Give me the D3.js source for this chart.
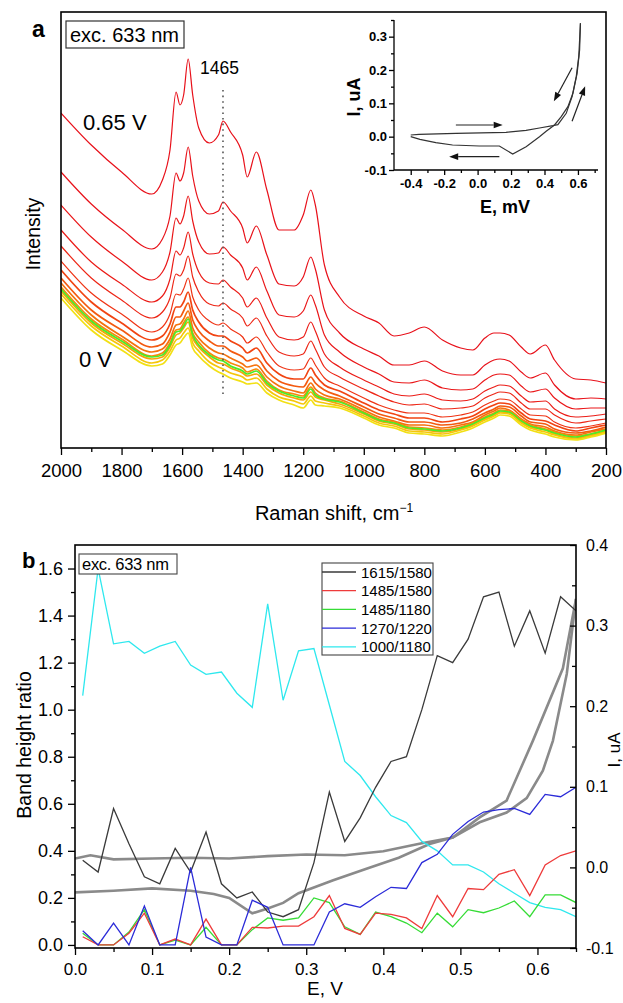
<!DOCTYPE html>
<html>
<head>
<meta charset="utf-8">
<script src="https://cdn.jsdelivr.net/npm/d3@7"></script>
<style>
  body { margin: 0; background: #fff; }
  svg { display: block; }
</style>
</head>
<body>
<svg id="fig" width="623" height="1003"></svg>
<script>
// ---- panel a: Raman spectra, intensity in arbitrary units ----
const shifts = [2000,1900,1800,1700,1665,1640,1620,1607,1595,1580,1565,1545,1510,1480,1465,1440,1400,1385,1355,1320,1280,1230,1200,1175,1160,1130,1080,1000,950,900,850,800,740,680,640,600,570,550,520,480,450,400,370,300,250,200];

const spec00 = [335,303,276,254,268,298,356,343,353,389,353,320,305,313,327,316,293,271,296,258,218,218,233,258,243,183,151,132,125,112,115,121,108,100,98,110,115,115,113,101,94,103,88,69,68,65]; // 0.65 V
const spec01 = [276,244,219,199,209,232,275,267,275,301,272,247,234,237,246,237,220,205,222,193,164,162,171,191,179,138,115,99,92,83,83,87,77,73,73,83,88,89,87,76,70,75,63,49,50,49];
const spec02 = [243,211,187,168,176,196,230,224,232,252,227,206,194,195,201,193,180,168,181,157,133,131,137,153,143,113,96,81,74,66,65,68,60,58,59,68,73,74,73,62,56,59,50,39,40,40];
const spec03 = [218,186,164,146,152,169,197,193,200,216,194,176,165,164,168,161,150,141,150,130,111,108,111,126,117,94,81,68,61,54,52,54,48,47,49,57,61,63,62,52,46,47,39,31,32,34];
const spec04 = [202,170,148,130,136,150,174,172,178,192,171,156,144,142,145,139,130,122,130,112,96,92,94,107,99,81,71,59,52,46,43,44,39,40,42,50,54,56,55,45,39,39,33,25,27,29];
const spec05 = [187,155,134,116,121,134,154,153,159,170,151,138,127,123,125,119,111,105,111,96,82,78,79,90,83,70,62,50,43,38,35,35,31,33,36,43,47,49,48,39,33,32,26,20,22,25];
const spec06 = [178,146,125,108,112,124,141,141,146,156,138,126,115,112,112,107,100,95,100,85,74,69,69,80,73,63,57,45,38,34,30,30,26,29,32,39,43,45,44,35,29,27,23,17,20,23];
const spec07 = [170,138,118,101,104,116,131,131,137,145,128,117,107,102,102,97,91,87,90,77,67,62,61,71,65,58,52,41,34,30,26,26,23,25,29,35,39,42,41,32,26,24,19,15,17,21];
const spec08 = [165,133,112,96,99,109,123,124,129,137,120,110,100,95,94,90,84,81,83,71,62,57,55,65,59,53,49,38,31,27,23,23,20,23,26,33,37,40,38,29,24,21,17,13,16,19];
const spec09 = [161,129,109,92,95,105,118,119,125,131,115,106,95,90,89,85,80,76,79,67,58,54,52,61,55,50,47,36,29,26,21,20,18,21,25,31,35,38,37,28,23,19,16,12,14,18];
const spec10 = [157,125,105,89,91,101,113,115,120,126,110,101,91,85,84,80,75,72,74,63,55,50,48,56,51,48,44,34,27,24,19,18,16,19,23,29,33,36,35,26,21,18,14,10,13,17];
const spec11 = [154,122,102,85,88,97,108,110,115,120,105,97,86,81,79,75,71,68,70,59,51,47,44,52,47,45,42,32,25,22,17,16,14,18,22,28,32,35,34,25,20,16,13,9,12,16];
const spec12 = [150,118,98,82,84,93,103,105,110,115,100,92,82,76,74,70,66,64,65,55,48,43,40,48,43,42,40,30,23,20,15,14,12,16,20,26,30,33,32,23,18,14,11,8,11,15]; // 0 V
const specGreen = [159,127,107,91,93,103,116,117,122,129,113,103,93,88,87,82,77,74,77,65,57,52,50,59,53,49,46,35,28,25,20,19,17,20,24,30,34,37,36,27,22,18,15,11,14,18];

const ramanTicks = [2000,1800,1600,1400,1200,1000,800,600,400,200];

// inset: cyclic voltammogram
const insetFwdE = [-0.40,-0.35,-0.13,0.17,0.29,0.37,0.45,0.48,0.53,0.565,0.59,0.605,0.615];
const insetFwdI = [0.005,0.007,0.010,0.013,0.019,0.026,0.033,0.036,0.07,0.12,0.18,0.24,0.34];
const insetRevE = [-0.40,-0.345,-0.25,-0.15,0.01,0.13,0.21,0.29,0.37,0.41,0.46,0.50,0.54,0.57,0.595,0.61,0.615];
const insetRevI = [0.0,-0.008,-0.018,-0.025,-0.028,-0.028,-0.052,-0.03,0.0,0.016,0.035,0.06,0.09,0.13,0.19,0.26,0.34];
const insetXTicks = [-0.4,-0.2,0.0,0.2,0.4,0.6];
const insetYTicks = [-0.1,0.0,0.1,0.2,0.3];

// ---- panel b: band height ratios vs potential ----
const potentials = [0.01,0.03,0.05,0.07,0.09,0.11,0.13,0.15,0.17,0.19,0.21,0.23,0.25,0.27,0.29,0.31,0.33,0.35,0.37,0.39,0.41,0.43,0.45,0.47,0.49,0.51,0.53,0.55,0.57,0.59,0.61,0.63,0.65];
const r1615_1580 = [0.36,0.31,0.58,0.43,0.29,0.26,0.41,0.31,0.48,0.26,0.20,0.225,0.14,0.12,0.15,0.35,0.65,0.44,0.54,0.67,0.78,0.80,1.00,1.23,1.20,1.30,1.48,1.50,1.27,1.42,1.24,1.48,1.42];
const r1485_1580 = [0.035,0,0,0.05,0.135,0,0.025,0,0.11,0,0,0.075,0.072,0.08,0.08,0.12,0.21,0.07,0.045,0.135,0.13,0.115,0.07,0.21,0.12,0.24,0.235,0.30,0.32,0.21,0.34,0.38,0.40];
const r1485_1180 = [0.05,0,0,0.055,0.15,0,0.02,0,0.075,0,0,0.065,0.115,0.105,0.115,0.20,0.18,0.077,0.045,0.14,0.12,0.093,0.052,0.135,0.077,0.15,0.137,0.157,0.187,0.12,0.213,0.213,0.18];
const r1270_1220 = [0.06,0,0.093,0,0.165,0,0,0.33,0.033,0,0,0.19,0.16,0,0,0,0.14,0.175,0.16,0.205,0.245,0.24,0.35,0.385,0.47,0.525,0.565,0.575,0.58,0.555,0.64,0.63,0.67];
const r1000_1180 = [1.06,1.60,1.28,1.29,1.24,1.27,1.29,1.19,1.15,1.16,1.07,1.01,1.45,1.04,1.25,1.26,1.02,0.78,0.72,0.63,0.55,0.52,0.44,0.40,0.34,0.34,0.31,0.26,0.22,0.18,0.16,0.15,0.12];

// current (uA, right axis) of the CV replotted against E
const cvFlatE = [0,0.02,0.05,0.10,0.15,0.20,0.25,0.30,0.35,0.40,0.45,0.49,0.525,0.56,0.586,0.607,0.62,0.638,0.65];
const cvFlatI = [0.011,0.015,0.010,0.011,0.012,0.011,0.014,0.016,0.015,0.020,0.030,0.037,0.056,0.068,0.086,0.12,0.157,0.24,0.333];
const cvDipE = [0,0.05,0.10,0.15,0.18,0.20,0.23,0.25,0.27,0.29,0.335,0.38,0.42,0.46,0.49,0.525,0.56,0.594,0.633,0.65];
const cvDipI = [-0.031,-0.029,-0.026,-0.029,-0.033,-0.038,-0.057,-0.051,-0.044,-0.032,-0.016,-0.001,0.012,0.029,0.037,0.062,0.083,0.157,0.247,0.333];

const ratioNames = ["1615/1580","1485/1580","1485/1180","1270/1220","1000/1180"];
const ratioColors = ["#3a3a3a","#ee3b3b","#36dc36","#2b2bd8","#2ee8ee"];
const eTicks = [0.0,0.1,0.2,0.3,0.4,0.5,0.6];
const ratioTicks = [0.0,0.2,0.4,0.6,0.8,1.0,1.2,1.4,1.6];
const currentTicks = [-0.1,0.0,0.1,0.2,0.3,0.4];

const font = '"Liberation Sans", Arial, sans-serif';
const svg = d3.select("#fig");

function styleAxis(g, size, weight) {
  g.select(".domain").remove();
  g.selectAll("line").attr("stroke", "#000").attr("stroke-width", 1.3);
  g.selectAll("text").attr("fill", "#000")
    .style("font-size", size + "px").style("font-family", font)
    .style("font-weight", weight || "normal");
}
function label(x, y, txt, size, opts) {
  opts = opts || {};
  return svg.append("text").attr("x", x).attr("y", y).text(txt)
    .style("font-family", font).style("font-size", size + "px")
    .style("font-weight", opts.bold ? "bold" : "normal")
    .attr("text-anchor", opts.anchor || "start")
    .attr("transform", opts.rotate ? `rotate(${opts.rotate},${x},${y})` : null);
}

// ================= panel a =================
const xA = d3.scaleLinear().domain([2000, 200]).range([61, 606]);
const yA = d3.scaleLinear().domain([0, 436]).range([448, 12]);

svg.append("clipPath").attr("id", "clipA").append("rect")
  .attr("x", 61).attr("y", 12).attr("width", 545).attr("height", 436);
const gA = svg.append("g").attr("clip-path", "url(#clipA)");

const spectra = [spec00, spec01, spec02, spec03, spec04, spec05, spec06, spec07, spec08, spec09, spec10, specGreen, spec11, spec12];
const specColors = ["#e8101a","#e8121a","#ea1618","#eb1c17","#ed2616","#ef3314","#f14412","#f35a10","#f5720e","#f68a0c","#f6a40a","#4cec28","#f5c60a","#f2e014"];

const specLine = d3.line()
  .x((d, i) => xA(shifts[i]))
  .y(d => yA(d))
  .curve(d3.curveMonotoneX);

spectra.forEach((s, i) => {
  gA.append("path").attr("d", specLine(s))
    .attr("fill", "none").attr("stroke", specColors[i])
    .attr("stroke-width", i < 6 ? 1.2 : 1.7);
});

// dotted marker at 1465
svg.append("line").attr("x1", xA(1465)).attr("x2", xA(1465)).attr("y1", 90).attr("y2", 397)
  .attr("stroke", "#555").attr("stroke-width", 1.6).attr("stroke-dasharray", "1.6,4");

svg.append("rect").attr("x", 61).attr("y", 12).attr("width", 545).attr("height", 436)
  .attr("fill", "none").attr("stroke", "#000").attr("stroke-width", 1.6);

const axA = svg.append("g").attr("transform", "translate(0,448)")
  .call(d3.axisBottom(xA).tickValues(ramanTicks).tickSize(7).tickPadding(9).tickFormat(d3.format("d")));
styleAxis(axA, 18.5);
const axAm = svg.append("g").attr("transform", "translate(0,448)")
  .call(d3.axisBottom(xA).tickValues(d3.range(1900, 200, -200)).tickSize(4).tickFormat(""));
styleAxis(axAm, 10);

label(32, 37, "a", 23, {bold: true});
svg.append("rect").attr("x", 66).attr("y", 21).attr("width", 118).attr("height", 27)
  .attr("fill", "#fff").attr("stroke", "#333").attr("stroke-width", 1.2);
label(70, 41.5, "exc. 633 nm", 20);
label(83, 130, "0.65 V", 22);
label(79, 367, "0 V", 22);
label(200, 74, "1465", 17.5);
label(40, 234, "Intensity", 19.5, {anchor: "middle", rotate: -90});

const ram = label(334, 520, "Raman shift, cm", 20, {anchor: "middle"});
ram.append("tspan").attr("dy", -8).style("font-size", "12px").text("\u22121");

// ---- inset ----
const xI = d3.scaleLinear().domain([-0.5, 0.72]).range([394, 598]);
const yI = d3.scaleLinear().domain([-0.1, 0.35]).range([170, 20]);
const cvInset = d3.line().x(d => xI(d[0])).y(d => yI(d[1]));
svg.append("path").attr("d", cvInset(d3.zip(insetFwdE, insetFwdI)))
  .attr("fill", "none").attr("stroke", "#333").attr("stroke-width", 1.2);
svg.append("path").attr("d", cvInset(d3.zip(insetRevE, insetRevI)))
  .attr("fill", "none").attr("stroke", "#333").attr("stroke-width", 1.2);

const axIx = svg.append("g").attr("transform", "translate(0,170)")
  .call(d3.axisBottom(xI).tickValues(insetXTicks).tickSize(5).tickPadding(4).tickFormat(d => d.toFixed(1)));
styleAxis(axIx, 13, "bold");
const axIxm = svg.append("g").attr("transform", "translate(0,170)")
  .call(d3.axisBottom(xI).tickValues([-0.3,-0.1,0.1,0.3,0.5,0.7]).tickSize(3).tickFormat(""));
styleAxis(axIxm, 10);
const axIy = svg.append("g").attr("transform", "translate(394,0)")
  .call(d3.axisLeft(yI).tickValues(insetYTicks).tickSize(5).tickPadding(2).tickFormat(d => d.toFixed(1)));
styleAxis(axIy, 13, "bold");
const axIym = svg.append("g").attr("transform", "translate(394,0)")
  .call(d3.axisLeft(yI).tickValues([-0.05,0.05,0.15,0.25,0.35]).tickSize(3).tickFormat(""));
styleAxis(axIym, 10);
svg.append("path").attr("d", `M394,20V170H598`).attr("fill", "none").attr("stroke", "#000").attr("stroke-width", 1.3);
label(505, 213, "E, mV", 18, {bold: true, anchor: "middle"});
label(360, 97, "I, uA", 18, {bold: true, anchor: "middle", rotate: -90});

// arrows in the inset
const insetArrows = [
  [[-0.13, 0.035], [0.15, 0.035]],
  [[0.13, -0.06], [-0.17, -0.06]],
  [[0.565, 0.207], [0.456, 0.106]],
  [[0.565, 0.046], [0.643, 0.151]]
];
insetArrows.forEach(([a, b]) => {
  const x1 = xI(a[0]), y1 = yI(a[1]), x2 = xI(b[0]), y2 = yI(b[1]);
  const ang = Math.atan2(y2 - y1, x2 - x1);
  const L = 9, W = 3.3;
  const bx = x2 - L * Math.cos(ang), by = y2 - L * Math.sin(ang);
  svg.append("line").attr("x1", x1).attr("y1", y1).attr("x2", bx).attr("y2", by)
    .attr("stroke", "#222").attr("stroke-width", 1.2);
  const p = [[x2, y2],
    [bx + W * Math.sin(ang), by - W * Math.cos(ang)],
    [bx - W * Math.sin(ang), by + W * Math.cos(ang)]];
  svg.append("polygon").attr("points", p.map(q => q.join(",")).join(" ")).attr("fill", "#111");
});

// ================= panel b =================
const xB = d3.scaleLinear().domain([0, 0.65]).range([75, 576]);
const yB = d3.scaleLinear().domain([-0.013, 1.7]).range([948, 545]);
const yR = d3.scaleLinear().domain([-0.1, 0.4]).range([948, 545]);

svg.append("clipPath").attr("id", "clipB").append("rect")
  .attr("x", 75).attr("y", 545).attr("width", 501).attr("height", 403);
const gB = svg.append("g").attr("clip-path", "url(#clipB)");

const cvLine = d3.line().x(d => xB(d[0])).y(d => yR(d[1]));
[[cvFlatE, cvFlatI], [cvDipE, cvDipI]].forEach(([e, c]) => {
  gB.append("path").attr("d", cvLine(d3.zip(e, c)))
    .attr("fill", "none").attr("stroke", "#8a8a8a").attr("stroke-width", 2.6);
});

const ratios = [r1615_1580, r1485_1580, r1485_1180, r1270_1220, r1000_1180];
const ratioLine = d3.line().x((d, i) => xB(potentials[i])).y(d => yB(d));
[4, 0, 2, 1, 3].forEach(k => {
  gB.append("path").attr("d", ratioLine(ratios[k]))
    .attr("fill", "none").attr("stroke", ratioColors[k]).attr("stroke-width", 1.3);
});

svg.append("rect").attr("x", 75).attr("y", 545).attr("width", 501).attr("height", 403)
  .attr("fill", "none").attr("stroke", "#000").attr("stroke-width", 1.6);

const axBx = svg.append("g").attr("transform", "translate(0,948)")
  .call(d3.axisBottom(xB).tickValues(eTicks).tickSize(7).tickPadding(8).tickFormat(d => d.toFixed(1)));
styleAxis(axBx, 17);
const axBxm = svg.append("g").attr("transform", "translate(0,948)")
  .call(d3.axisBottom(xB).tickValues([0.05,0.15,0.25,0.35,0.45,0.55,0.65]).tickSize(4).tickFormat(""));
styleAxis(axBxm, 10);
const axBy = svg.append("g").attr("transform", "translate(75,0)")
  .call(d3.axisLeft(yB).tickValues(ratioTicks).tickSize(7).tickPadding(5).tickFormat(d => d.toFixed(1)));
styleAxis(axBy, 18);
const axBym = svg.append("g").attr("transform", "translate(75,0)")
  .call(d3.axisLeft(yB).tickValues([0.1,0.3,0.5,0.7,0.9,1.1,1.3,1.5]).tickSize(4).tickFormat(""));
styleAxis(axBym, 10);
const axBr = svg.append("g").attr("transform", "translate(576,0)")
  .call(d3.axisRight(yR).tickValues(currentTicks).tickSize(-6).tickPadding(10).tickFormat(d => d.toFixed(1)));
styleAxis(axBr, 16);
const axBrm = svg.append("g").attr("transform", "translate(576,0)")
  .call(d3.axisRight(yR).tickValues([-0.05,0.05,0.15,0.25,0.35]).tickSize(-4).tickFormat(""));
styleAxis(axBrm, 10);

label(22, 568, "b", 22, {bold: true});
svg.append("rect").attr("x", 79).attr("y", 554).attr("width", 98).attr("height", 20)
  .attr("fill", "#fff").attr("stroke", "#444").attr("stroke-width", 1.1);
label(82, 570, "exc. 633 nm", 16.5).style("letter-spacing", "-0.3px");
label(31, 745, "Band height ratio", 19.5, {anchor: "middle", rotate: -90});
label(325, 995, "E, V", 19, {anchor: "middle"});
label(620, 750, "I, uA", 17, {anchor: "middle", rotate: -90});

// legend
svg.append("rect").attr("x", 322).attr("y", 563).attr("width", 111).attr("height", 92)
  .attr("fill", "#fff").attr("stroke", "#444").attr("stroke-width", 1.1);
ratioNames.forEach((n, i) => {
  const y = 572 + i * 18.7;
  svg.append("line").attr("x1", 322).attr("x2", 356).attr("y1", y).attr("y2", y)
    .attr("stroke", ratioColors[i]).attr("stroke-width", 1.3);
  label(361, y + 5.5, n, 15);
});
</script>
</body>
</html>
